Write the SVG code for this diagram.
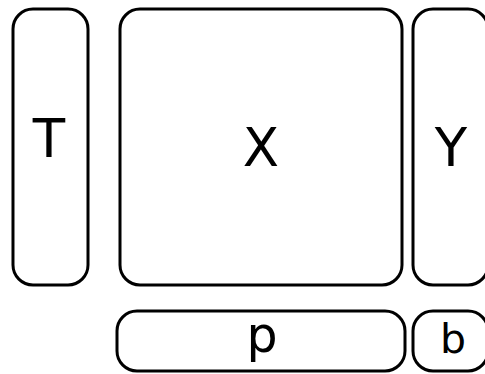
<svg xmlns="http://www.w3.org/2000/svg" width="485" height="374" viewBox="0 0 485 374">
<style>
.box{fill:#fff;stroke:#000;stroke-width:3}
.lbl{font-family:"DejaVu Sans",sans-serif;font-size:53px;fill:#000;text-anchor:middle}
</style>
<rect width="485" height="374" fill="#fff"/>
<g id="T"><rect class="box" x="13" y="9" width="75" height="276" rx="20"/><text class="lbl" x="49" y="157">T</text></g>
<g id="X"><rect class="box" x="120" y="9" width="282" height="276" rx="20"/><text class="lbl" x="261" y="166">X</text></g>
<g id="Y"><rect class="box" x="413" y="9" width="75" height="276" rx="20"/><text class="lbl" x="451" y="166">Y</text></g>
<g id="p"><rect class="box" x="117" y="311" width="288" height="60" rx="20"/><text class="lbl" x="262" y="352" style="font-size:49px">p</text></g>
<g id="b"><rect class="box" x="413" y="311" width="75" height="60" rx="20"/><text class="lbl" x="453" y="353" style="font-size:41px">b</text></g>
<g id="connectors"/>
</svg>
